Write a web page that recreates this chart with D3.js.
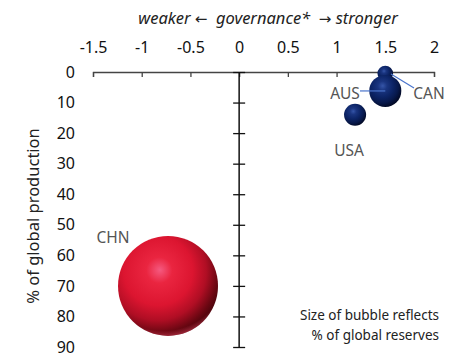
<!DOCTYPE html>
<html>
<head>
<meta charset="utf-8">
<script src="https://cdn.jsdelivr.net/npm/d3@7"></script>
<style>
  body { margin: 0; background: #fff; }
  svg { font-family: "Noto Sans", "Open Sans", sans-serif; }
  .title { white-space: pre; }
</style>
</head>
<body>
<div class="chart"></div>
<script>
// data
const countries = ["CHN", "USA", "AUS", "CAN"];
const governance = [-0.73, 1.19, 1.5, 1.5];
const production = [70, 14, 6.2, 0.5];
const reserves = [37, 1.8, 3.8, 0.9];
const xTicks = [-1.5, -1, -0.5, 0, 0.5, 1, 1.5, 2];
const yTicks = [0, 10, 20, 30, 40, 50, 60, 70, 80, 90];

const width = 458, height = 354;
const svg = d3.select(".chart").append("svg")
    .attr("width", width)
    .attr("height", height);

const xScale = d3.scaleLinear().domain([-1.5, 2]).range([93, 434]);
const yScale = d3.scaleLinear().domain([0, 90]).range([72, 347]);
const rScale = d3.scaleSqrt().domain([0, 37]).range([0, 50]);

// gradients
const defs = svg.append("defs");
function sphere(id, stops) {
  const g = defs.append("radialGradient")
      .attr("id", id)
      .attr("cx", "0.38").attr("cy", "0.36").attr("r", "0.72")
      .attr("fx", "0.42").attr("fy", "0.34");
  stops.forEach(s => g.append("stop").attr("offset", s[0]).attr("stop-color", s[1]));
}
sphere("red", [[0, "#f55a80"], [0.18, "#ea2540"], [0.48, "#dc1530"], [0.68, "#b00e24"], [0.85, "#6a0712"], [1, "#360307"]]);
sphere("navy", [[0, "#3555a8"], [0.2, "#1a3580"], [0.48, "#0c2466"], [0.72, "#07184a"], [0.88, "#030c2c"], [1, "#01051a"]]);
// bottom rim light
const rim = defs.append("radialGradient")
    .attr("id", "rim")
    .attr("cx", "0.45").attr("cy", "0.3").attr("r", "0.72");
rim.append("stop").attr("offset", 0.9).attr("stop-color", "#ff5070").attr("stop-opacity", 0);
rim.append("stop").attr("offset", 1).attr("stop-color", "#ff5070").attr("stop-opacity", 0.55);

// title
const title = svg.append("text")
    .attr("class", "title")
    .attr("x", 268).attr("y", 24)
    .attr("text-anchor", "middle")
    .attr("font-size", 16.5)
    .attr("font-style", "italic")
    .attr("fill", "#222");
title.append("tspan").text("weaker ");
title.append("tspan").attr("font-family", "DejaVu Sans").attr("font-style", "normal").attr("font-size", 15).text("\u2190");
title.append("tspan").text("  governance*  ");
title.append("tspan").attr("font-family", "DejaVu Sans").attr("font-style", "normal").attr("font-size", 15).text("\u2192");
title.append("tspan").text(" stronger");

// top axis
const xAxis = d3.axisTop(xScale)
    .tickValues(xTicks)
    .tickSizeInner(-5)
    .tickSizeOuter(-5)
    .tickPadding(19);
const gx = svg.append("g")
    .attr("class", "axis x-axis")
    .attr("transform", "translate(0," + yScale(0) + ")")
    .call(xAxis);
gx.selectAll("text").attr("font-size", 16).attr("fill", "#111").attr("font-family", "Noto Sans");
gx.select(".domain").attr("stroke", "#444").attr("stroke-width", 1.3);
gx.selectAll(".tick line").attr("stroke", "#444").attr("stroke-width", 1.3);
gx.selectAll(".tick text").text(d => d3.format("~g")(d).replace("\u2212", "-"));

// y axis line at x=0, ticks crossing
const gy = svg.append("g")
    .attr("class", "axis y-axis")
    .attr("transform", "translate(" + (xScale(0) + 6) + ",0)")
    .call(d3.axisLeft(yScale).tickValues(yTicks).tickSize(12).tickFormat(""));
gy.select(".domain").remove();
gy.selectAll(".tick line").attr("stroke", "#111").attr("stroke-width", 1.3);
svg.append("line")
    .attr("x1", xScale(0)).attr("x2", xScale(0))
    .attr("y1", yScale(0)).attr("y2", yScale(90))
    .attr("stroke", "#111").attr("stroke-width", 1.5);

// y labels at the left
const gyl = svg.append("g")
    .attr("transform", "translate(75,0)")
    .call(d3.axisLeft(yScale).tickValues(yTicks).tickSize(0).tickPadding(0));
gyl.select(".domain").remove();
gyl.selectAll("text").attr("font-size", 16).attr("fill", "#111").attr("font-family", "Noto Sans");

svg.append("text")
    .attr("transform", "translate(39,216) rotate(-90)")
    .attr("text-anchor", "middle")
    .attr("font-size", 16.5)
    .attr("fill", "#222")
    .text("% of global production");

const lineColor = "#4a74cc";

// bubbles
const order = [3, 2, 1, 0];
svg.selectAll(".bubble")
    .data(order)
    .join("circle")
    .attr("class", "bubble")
    .attr("cx", i => xScale(governance[i]))
    .attr("cy", i => yScale(production[i]))
    .attr("r", i => rScale(reserves[i]))
    .attr("fill", i => countries[i] === "CHN" ? "url(#red)" : "url(#navy)");
svg.append("circle")
    .attr("cx", xScale(governance[0])).attr("cy", yScale(production[0]))
    .attr("r", rScale(reserves[0]))
    .attr("fill", "url(#rim)");

// leader lines
svg.append("line")
    .attr("x1", 391).attr("y1", 74)
    .attr("x2", 414).attr("y2", 88)
    .attr("stroke", lineColor).attr("stroke-width", 1.2);
svg.append("line")
    .attr("x1", 360).attr("x2", xScale(governance[2]))
    .attr("y1", yScale(production[2])).attr("y2", yScale(production[2]))
    .attr("stroke", lineColor).attr("stroke-width", 1.2);

// country labels
const labels = [
  {c: "CHN", x: 113, y: 243},
  {c: "USA", x: 349, y: 156},
  {c: "AUS", x: 345, y: 99},
  {c: "CAN", x: 429, y: 99}
];
svg.selectAll(".lbl")
    .data(labels)
    .join("text")
    .attr("class", "lbl")
    .attr("x", d => d.x).attr("y", d => d.y)
    .attr("text-anchor", "middle")
    .attr("font-size", 15.5)
    .attr("fill", "#555")
    .text(d => d.c);

// note
svg.append("text")
    .attr("text-anchor", "end")
    .attr("font-size", 13.5)
    .attr("fill", "#222")
    .selectAll("tspan")
    .data(["Size of bubble reflects", "% of global reserves"])
    .join("tspan")
    .attr("x", 439)
    .attr("y", (d, i) => 320 + i * 20)
    .text(d => d);
</script>
</body>
</html>
